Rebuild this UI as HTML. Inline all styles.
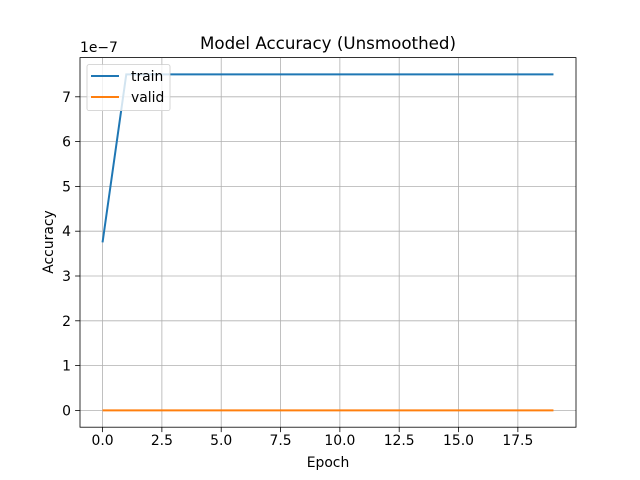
<!DOCTYPE html>
<html><head><meta charset="utf-8"><style>body{margin:0;background:#fff}svg{display:block}text{font-family:"DejaVu Sans","Liberation Sans",sans-serif}</style></head>
<body>
<svg id="chart" width="640" height="480" xmlns="http://www.w3.org/2000/svg"></svg>
<script>
const epochs = Array.from({length:20},(_,i)=>i);
const trainAcc = [3.75,7.5,7.5,7.5,7.5,7.5,7.5,7.5,7.5,7.5,7.5,7.5,7.5,7.5,7.5,7.5,7.5,7.5,7.5,7.5];
const validAcc = [0,0,0,0,0,0,0,0,0,0,0,0,0,0,0,0,0,0,0,0];
const xTicks = [0,2.5,5,7.5,10,12.5,15,17.5];
const xTickLabels = ["0.0","2.5","5.0","7.5","10.0","12.5","15.0","17.5"];
const yTicks = [0,1,2,3,4,5,6,7];
const yTickLabels = ["0","1","2","3","4","5","6","7"];

const L=80,R=576,T=57.6,B=427.2;
const xmin=-0.95,xmax=19.95,ymin=-0.375,ymax=7.875;
const sx=v=>L+(v-xmin)/(xmax-xmin)*(R-L);
const sy=v=>B-(v-ymin)/(ymax-ymin)*(B-T);
const svg=document.getElementById('chart');
const NS='http://www.w3.org/2000/svg';
function mk(tag,attrs,txt){const e=document.createElementNS(NS,tag);for(const k in attrs)e.setAttribute(k,attrs[k]);if(txt!==undefined)e.textContent=txt;svg.appendChild(e);return e;}

xTicks.forEach((t,i)=>{
  const x=sx(t);
  let g=mk('line',{x1:x,x2:x,y1:T,y2:B,stroke:'#b0b0b0','stroke-width':0.8});
  
  
  let k=mk('line',{x1:x,x2:x,y1:B,y2:B+4.9,stroke:'#000','stroke-width':0.8});
  
  
  let l=mk('text',{x:x,y:B+18,'font-size':13.9,'text-anchor':'middle'},xTickLabels[i]);
  
  
});
yTicks.forEach((t,i)=>{
  const y=sy(t);
  let g=mk('line',{x1:L,x2:R,y1:y,y2:y,stroke:'#b0b0b0','stroke-width':0.8});
  
  
  let k=mk('line',{x1:L-4.9,x2:L,y1:y,y2:y,stroke:'#000','stroke-width':0.8});
  
  
  let l=mk('text',{x:L-9,y:y+5,'font-size':13.9,'text-anchor':'end'},yTickLabels[i]);
  
  
});
function line(vals,color,name){
  const p=mk('polyline',{points:vals.map((v,i)=>sx(epochs[i])+','+sy(v)).join(' '),fill:'none',stroke:color,'stroke-width':2});
  
  
}
line(trainAcc,'#1f77b4','train-line');
line(validAcc,'#ff7f0e','valid-line');
let fr=mk('rect',{x:L,y:T,width:R-L,height:B-T,fill:'none',stroke:'#000','stroke-width':0.8});


</script>
<svg style="position:absolute;left:0;top:0" width="640" height="480" xmlns="http://www.w3.org/2000/svg">
<text x="328" y="49" font-size="16.7" text-anchor="middle" style="font-family:'DejaVu Sans',sans-serif">Model Accuracy (Unsmoothed)</text>
<text x="328" y="467" font-size="13.9" text-anchor="middle" style="font-family:'DejaVu Sans',sans-serif">Epoch</text>
<text x="53" y="242" font-size="13.9" text-anchor="middle" transform="rotate(-90 53 242)" style="font-family:'DejaVu Sans',sans-serif">Accuracy</text>
<text x="80" y="52" font-size="13.9" style="font-family:'DejaVu Sans',sans-serif">1e−7</text>
<g>
<rect x="87" y="64.6" width="83" height="46" rx="2" fill="#fff" fill-opacity="0.8" stroke="#cccccc" stroke-width="0.8"/>
<line x1="91" x2="119" y1="76" y2="76" stroke="#1f77b4" stroke-width="2"/>
<text x="131" y="81" font-size="13.9" style="font-family:'DejaVu Sans',sans-serif">train</text>
<line x1="91" x2="119" y1="97" y2="97" stroke="#ff7f0e" stroke-width="2"/>
<text x="131" y="102" font-size="13.9" style="font-family:'DejaVu Sans',sans-serif">valid</text>
</g>
</svg>
</body></html>
